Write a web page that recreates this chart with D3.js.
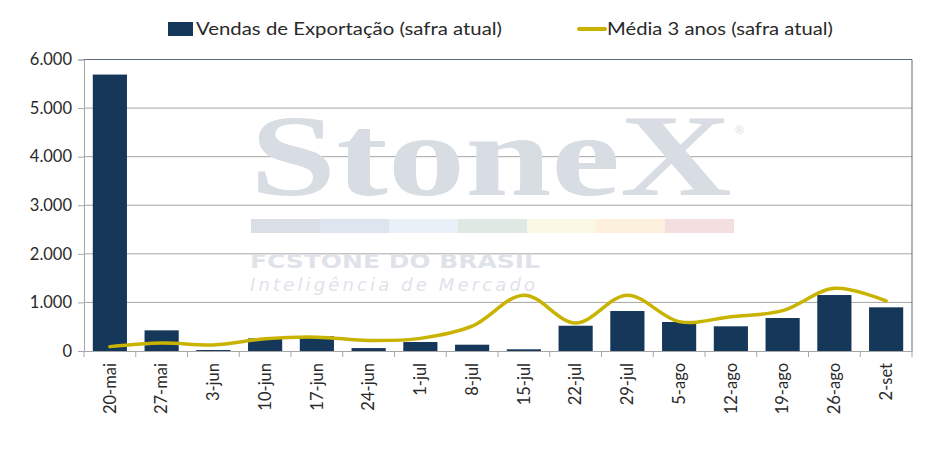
<!DOCTYPE html>
<html>
<head>
<meta charset="utf-8">
<script src="https://cdn.jsdelivr.net/npm/d3@7"></script>
<style>
  body { margin: 0; background: #fff; }
  svg { font-family: Lato, "Open Sans", sans-serif; }
</style>
</head>
<body>
<div id="chart"></div>
<script>
"use strict";

var semanas = ["20-mai", "27-mai", "3-jun", "10-jun", "17-jun", "24-jun", "1-jul", "8-jul",
  "15-jul", "22-jul", "29-jul", "5-ago", "12-ago", "19-ago", "26-ago", "2-set"];
var vendas = [5690, 425, 20, 260, 305, 60, 185, 130, 35, 520, 823, 597, 508, 679, 1152, 899];
var media3 = [90, 165, 125, 250, 285, 215, 260, 510, 1150, 575, 1150, 605, 705, 830, 1290, 1030];
var yTicks = [0, 1000, 2000, 3000, 4000, 5000, 6000];
var faixas = ["#dadee5", "#dfe5ee", "#eaf0f8", "#dfe9e3", "#fbf7e5", "#fdf0dc", "#f4dfe0"];

var width = 929, height = 450;
var margin = {left: 84, top: 59.5, right: 17, bottom: 99};
var w = width - margin.left - margin.right;
var h = height - margin.top - margin.bottom;

var svg = d3.select("#chart").append("svg")
  .attr("width", width)
  .attr("height", height);

var x = d3.scaleBand().domain(semanas).range([0, w]).paddingInner(0.34).paddingOuter(0.17);
var y = d3.scaleLinear().domain([0, 6000]).range([h, 0]);

var fmt = function(d) { return d3.format(",")(d).replace(/,/g, "."); };

var g = svg.append("g").attr("transform", "translate(" + margin.left + "," + margin.top + ")");

// marca d'agua
var wm = svg.append("g").attr("class", "watermark");
wm.append("text")
  .attr("x", 250).attr("y", 195)
  .attr("font-family", "'Liberation Serif', 'DejaVu Serif', serif")
  .attr("font-weight", "bold")
  .attr("font-size", 116)
  .attr("textLength", 482)
  .attr("lengthAdjust", "spacingAndGlyphs")
  .attr("fill", "#d8dde4")
  .text("StoneX");
wm.append("text")
  .attr("x", 735).attr("y", 134)
  .attr("font-size", 11)
  .attr("fill", "#d9dee5")
  .text("®");
wm.selectAll("rect")
  .data(faixas)
  .enter()
    .append("rect")
      .attr("x", function(d, i) { return 251 + i * 69; })
      .attr("y", 219)
      .attr("width", 69)
      .attr("height", 14)
      .attr("fill", function(d) { return d; });
wm.append("text")
  .attr("x", 250).attr("y", 268)
  .attr("font-family", "'DejaVu Sans', sans-serif")
  .attr("font-weight", "bold")
  .attr("font-size", 19)
  .attr("textLength", 290)
  .attr("lengthAdjust", "spacingAndGlyphs")
  .attr("fill", "#dfe3e9")
  .text("FCSTONE DO BRASIL");
wm.append("text")
  .attr("x", 250).attr("y", 291)
  .attr("font-family", "'DejaVu Sans', sans-serif")
  .attr("font-style", "italic")
  .attr("font-size", 18)
  .attr("textLength", 285)
  .attr("fill", "#dfe3e9")
  .text("Inteligência de Mercado");

// grade
g.selectAll(".grid")
  .data(yTicks.slice(1, -1))
  .enter()
    .append("line")
      .attr("class", "grid")
      .attr("x1", 0).attr("x2", w)
      .attr("y1", function(d) { return y(d); })
      .attr("y2", function(d) { return y(d); })
      .attr("stroke", "#a6a6a6")
      .attr("stroke-width", 1);

// borda do grafico
g.append("path")
  .attr("d", "M0," + y(6000) + "H" + w + "V" + h)
  .attr("fill", "none")
  .attr("stroke", "#5f6b78")
  .attr("stroke-width", 1);

// barras
g.selectAll(".bar")
  .data(vendas)
  .enter()
    .append("rect")
      .attr("class", "bar")
      .attr("x", function(d, i) { return x(semanas[i]); })
      .attr("y", function(d) { return y(d); })
      .attr("width", x.bandwidth())
      .attr("height", function(d) { return h - y(d); })
      .attr("fill", "#14375a");

// linha
var line = d3.line()
  .x(function(d, i) { return x(semanas[i]) + x.bandwidth() / 2; })
  .y(function(d) { return y(d); })
  .curve(d3.curveCatmullRom.alpha(0.5));

g.append("path")
  .datum(media3)
  .attr("d", line)
  .attr("fill", "none")
  .attr("stroke", "#c8b400")
  .attr("stroke-width", 3.5)
  .attr("stroke-linecap", "round");

// eixo y
var yAxis = g.append("g")
  .call(d3.axisLeft(y).tickValues(yTicks).tickFormat(fmt).tickSize(6).tickPadding(6));
yAxis.select(".domain").attr("stroke", "#a6a6a6");
yAxis.selectAll(".tick line").attr("stroke", "#a6a6a6");
yAxis.selectAll("text").attr("font-size", 16.5).attr("fill", "#2a2a2a").attr("font-family", "Lato, sans-serif");

// eixo x
var xAxis = g.append("g")
  .attr("transform", "translate(0," + h + ")")
  .call(d3.axisBottom(x).tickSize(0).tickPadding(0));
xAxis.select(".domain").attr("stroke", "#a6a6a6");
xAxis.selectAll(".tick text")
  .attr("font-size", 16.5)
  .attr("fill", "#2a2a2a")
  .attr("font-family", "Lato, sans-serif")
  .attr("transform", "rotate(-90)")
  .attr("text-anchor", "end")
  .attr("dx", "-12")
  .attr("dy", "0.35em")
  .attr("y", 0);

var bordas = d3.range(semanas.length + 1).map(function(i) { return i * w / semanas.length; });
xAxis.selectAll(".sep")
  .data(bordas)
  .enter()
    .append("line")
      .attr("class", "sep")
      .attr("x1", function(d) { return d; })
      .attr("x2", function(d) { return d; })
      .attr("y1", 0).attr("y2", 6)
      .attr("stroke", "#a6a6a6");

// legenda
var leg = svg.append("g").attr("font-family", "Lato, sans-serif").attr("font-size", 18).attr("fill", "#2a2a2a");
leg.append("rect").attr("x", 168).attr("y", 22).attr("width", 25).attr("height", 14).attr("fill", "#14375a");
leg.append("text").attr("x", 196).attr("y", 35).attr("textLength", 306).attr("lengthAdjust", "spacingAndGlyphs")
  .text("Vendas de Exportação (safra atual)");
leg.append("line").attr("x1", 579).attr("x2", 605).attr("y1", 29).attr("y2", 29)
  .attr("stroke", "#c8b400").attr("stroke-width", 4).attr("stroke-linecap", "round");
leg.append("text").attr("x", 607).attr("y", 35).attr("textLength", 226).attr("lengthAdjust", "spacingAndGlyphs")
  .text("Média 3 anos (safra atual)");
</script>
</body>
</html>
